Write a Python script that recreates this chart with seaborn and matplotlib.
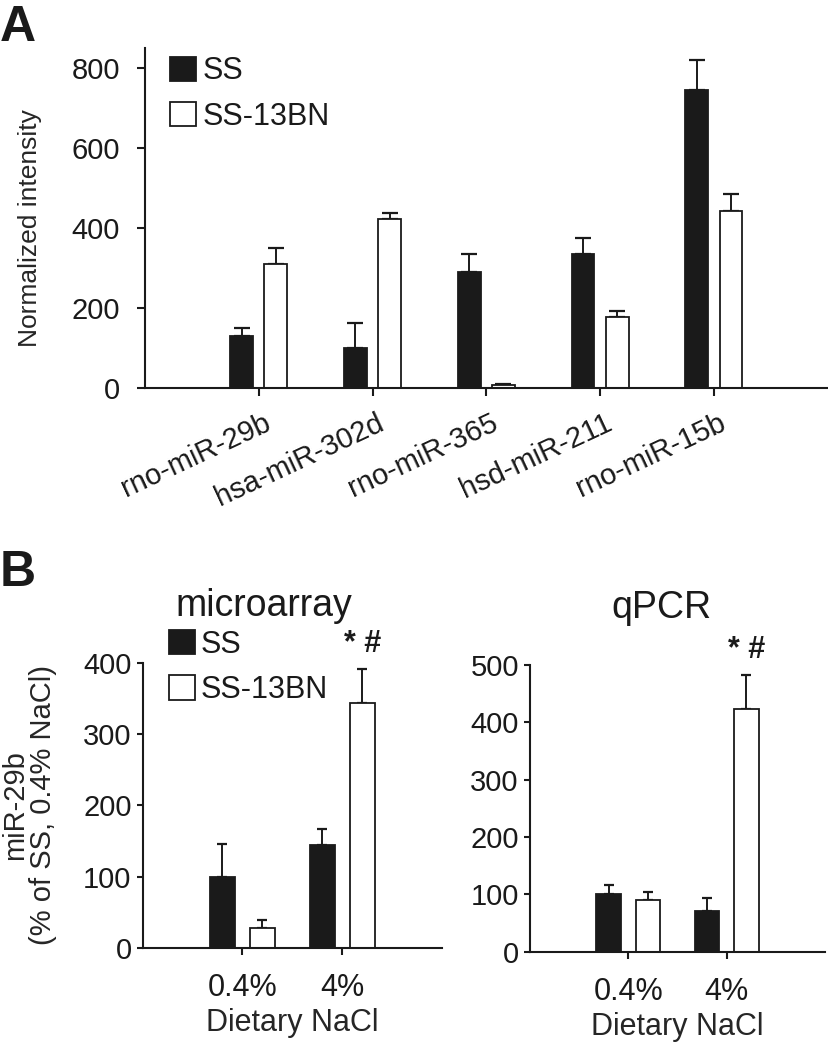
import matplotlib
matplotlib.use("Agg")
import matplotlib.pyplot as plt
import matplotlib.transforms as mtransforms
from matplotlib.patches import Patch
import seaborn as sns
import pandas as pd
import numpy as np

# --- data ---
strains = ["SS", "SS-13BN"]

mirnas = ["rno-miR-29b", "hsa-miR-302d", "rno-miR-365", "hsd-miR-211", "rno-miR-15b"]
ss_intensity = [130, 100, 289, 335, 745]
ss_intensity_err = [20, 63, 46, 40, 74]
bn_intensity = [310, 423, 7, 178, 442]
bn_intensity_err = [40, 14, 3, 15, 42]

nacl = ["0.4%", "4%"]
ss_micro = [100, 145]
ss_micro_err = [46, 22]
bn_micro = [28.5, 344]
bn_micro_err = [11, 47]

ss_qpcr = [100, 71]
ss_qpcr_err = [17, 23]
bn_qpcr = [90, 424]
bn_qpcr_err = [15, 58]

BLACK = "#1a1a1a"
palette = {"SS": BLACK, "SS-13BN": "white"}

sns.set_style("ticks")
plt.rcParams["font.family"] = ["Liberation Sans", "DejaVu Sans"]
plt.rcParams["axes.linewidth"] = 1.5
plt.rcParams["xtick.major.width"] = 1.5
plt.rcParams["ytick.major.width"] = 1.5
plt.rcParams["axes.edgecolor"] = BLACK
plt.rcParams["text.color"] = BLACK
plt.rcParams["xtick.color"] = BLACK
plt.rcParams["ytick.color"] = BLACK


def long_df(cats, catname, ss, bn):
    return pd.DataFrame({
        catname: cats * 2,
        "strain": ["SS"] * len(cats) + ["SS-13BN"] * len(cats),
        "value": ss + bn,
    })


def draw_bars(ax, df, catname, cats, errs, width, gap, capsize):
    sns.barplot(data=df, x=catname, y="value", hue="strain", order=cats,
                hue_order=strains, palette=palette, edgecolor=BLACK,
                linewidth=1.3, width=width, gap=gap, errorbar=None,
                legend=False, ax=ax)
    # one-sided (upper) error bars, placed on seaborn's own bars
    for cont, err in zip(ax.containers, errs):
        xs = [b.get_x() + b.get_width() / 2 for b in cont]
        hs = [b.get_height() for b in cont]
        ax.errorbar(xs, hs, yerr=[np.zeros(len(err)), err], fmt="none",
                    ecolor=BLACK, elinewidth=1.4, capsize=capsize,
                    capthick=1.6, zorder=1)
    for b in ax.patches:
        b.set_zorder(2)


def add_legend(ax, bbox, fs):
    handles = [Patch(facecolor=palette[s], edgecolor=BLACK, linewidth=1.3)
               for s in strains]
    ax.legend(handles, strains, loc="upper left", bbox_to_anchor=bbox,
              frameon=False, fontsize=fs, handlelength=0.85, handleheight=0.85,
              handletextpad=0.2, labelspacing=0.5, borderpad=0,
              borderaxespad=0)


fig = plt.figure(figsize=(8.29, 10.5), dpi=100)

# ---------------- Panel A ----------------
axA = fig.add_axes([0.1749, 0.6305, 0.8235, 0.3238])
dfA = long_df(mirnas, "mirna", ss_intensity, bn_intensity)
draw_bars(axA, dfA, "mirna", mirnas, [ss_intensity_err, bn_intensity_err],
          width=0.6, gap=0.33, capsize=5.5)
axA.set_xlim(-1, 5)
axA.set_ylim(0, 850)
axA.set_yticks([0, 200, 400, 600, 800])
axA.tick_params(axis="y", length=6, pad=12, labelsize=21)
axA.tick_params(axis="x", length=6, pad=9)
axA.set_xticks(range(len(mirnas)))
axA.set_xticklabels(mirnas, rotation=25, ha="right", va="top",
                    rotation_mode="anchor", fontsize=21)
shift = mtransforms.ScaledTranslation(4 / 100, 0, fig.dpi_scale_trans)
for lab in axA.get_xticklabels():
    lab.set_transform(lab.get_transform() + shift)
axA.set_xlabel("")
axA.set_ylabel("Normalized intensity", fontsize=19)
axA.yaxis.set_label_coords(-0.151, 0.47)
sns.despine(ax=axA)
add_legend(axA, (0.037, 0.975), 22)
fig.text(0.0, 0.973, "A", fontsize=36, fontweight="bold",
         ha="left", va="center")

# ---------------- Panel B ----------------
axB1 = fig.add_axes([0.1721, 0.0969, 0.3611, 0.2720])
axB2 = fig.add_axes([0.6393, 0.0936, 0.3559, 0.2730])

panels = [
    (axB1, "microarray", ss_micro, bn_micro, ss_micro_err, bn_micro_err,
     400, [0, 100, 200, 300, 400], 0.405),
    (axB2, "qPCR", ss_qpcr, bn_qpcr, ss_qpcr_err, bn_qpcr_err,
     500, [0, 100, 200, 300, 400, 500], 0.447),
]
for ax, title, ss, bn, sse, bne, ymax, yt, tx in panels:
    df = long_df(nacl, "nacl", ss, bn)
    draw_bars(ax, df, "nacl", nacl, [sse, bne], width=0.8, gap=0.375,
              capsize=3.6)
    ax.set_xlim(-1, 2)
    ax.set_ylim(0, ymax)
    ax.set_yticks(yt)
    ax.tick_params(axis="y", length=4, pad=4, labelsize=21)
    ax.tick_params(axis="x", length=5, pad=13, labelsize=22)
    ax.set_xlabel("Dietary NaCl", fontsize=22)
    ax.xaxis.set_label_coords(0.5, -0.21)
    ax.set_ylabel("")
    sns.despine(ax=ax)
    ax.text(tx, 1.2, title, transform=ax.transAxes, fontsize=27,
            ha="center", va="center")
    # significance mark above the SS-13BN 4% bar
    top_bar = ax.containers[1][1]
    ax.annotate("* #", (top_bar.get_x() + top_bar.get_width() / 2,
                        bn[1] + bne[1]),
                xytext=(0, 18), textcoords="offset points", ha="center",
                va="center", fontsize=22, fontweight="bold",
                annotation_clip=False)

axB1.set_ylabel("miR-29b\n(% of SS, 0.4% NaCl)", fontsize=21,
                linespacing=1.0)
axB1.yaxis.set_label_coords(-0.285, 0.5)
add_legend(axB1, (0.088, 1.115), 22)
fig.text(0.0, 1 - 573 / 1050, "B", fontsize=36, fontweight="bold",
         ha="left", va="center")

fig.savefig("out.png", dpi=100)
